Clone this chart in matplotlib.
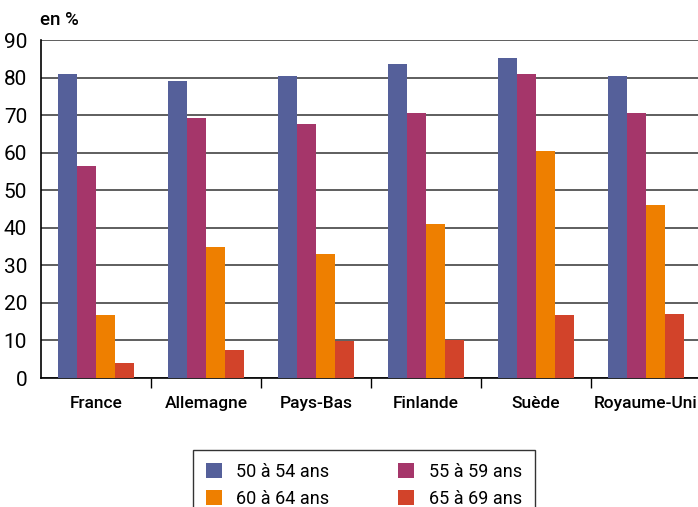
import numpy as np
import matplotlib.pyplot as plt

# donnees
pays = ["France", "Allemagne", "Pays-Bas", "Finlande", "Suède", "Royaume-Uni"]
ages = ["50 à 54 ans", "55 à 59 ans", "60 à 64 ans", "65 à 69 ans"]
v_50_54 = [80.9, 79.1, 80.4, 83.6, 85.2, 80.3]
v_55_59 = [56.4, 69.2, 67.6, 70.5, 80.9, 70.5]
v_60_64 = [16.8, 34.9, 33.0, 41.0, 60.4, 46.0]
v_65_69 = [4.0, 7.5, 9.8, 10.1, 16.8, 17.0]
couleurs = ["#55609A", "#A5366A", "#EE7F00", "#D2432A"]

plt.rcParams['font.family'] = ['Roboto', 'DejaVu Sans']

fig = plt.figure(figsize=(6.98, 5.07), dpi=100)
ax = fig.add_axes([0.0587, 0.2544, 0.9456, 0.6667])

x = np.arange(len(pays))
w = 0.173
series = [v_50_54, v_55_59, v_60_64, v_65_69]
handles = []
for k, vals in enumerate(series):
    b = ax.bar(x + (k - 1.5) * w, vals, w, color=couleurs[k], label=ages[k], zorder=3)
    handles.append(b)

ax.set_xlim(-0.5, 5.5)
ax.set_ylim(0, 90)
ax.set_yticks(range(0, 91, 10))
ax.yaxis.grid(True, color="#333333", lw=1.1, zorder=0)
ax.tick_params(axis='y', length=0, labelsize=15, pad=10)
ax.set_xticks(x)
ax.set_xticklabels(pays, fontsize=12.5, weight='medium')
ax.tick_params(axis='x', length=0, pad=13)
ax.set_xticks(np.arange(0.5, 5, 1), minor=True)
ax.tick_params(axis='x', which='minor', length=7, width=1, color='black')

for s in ['top', 'right']:
    ax.spines[s].set_visible(False)
ax.spines['left'].set_linewidth(1.2)
ax.spines['bottom'].set_linewidth(1.2)

fig.text(40 / 698, 1 - 20 / 507, "en %", fontsize=13.5, weight='medium', va='center')

leg = fig.legend(handles=[handles[0], handles[2], handles[1], handles[3]],
                 labels=[ages[0], ages[2], ages[1], ages[3]],
                 ncol=2, loc='upper left', bbox_to_anchor=(193 / 698, 1 - 450 / 507),
                 fontsize=13, frameon=True, fancybox=False, edgecolor='black',
                 handlelength=0.9, handleheight=0.9, handletextpad=0.8,
                 columnspacing=3.8, borderpad=0.7, labelspacing=0.5,
                 borderaxespad=0)
leg.get_frame().set_linewidth(1.0)

fig.savefig("out.png", dpi=100)
